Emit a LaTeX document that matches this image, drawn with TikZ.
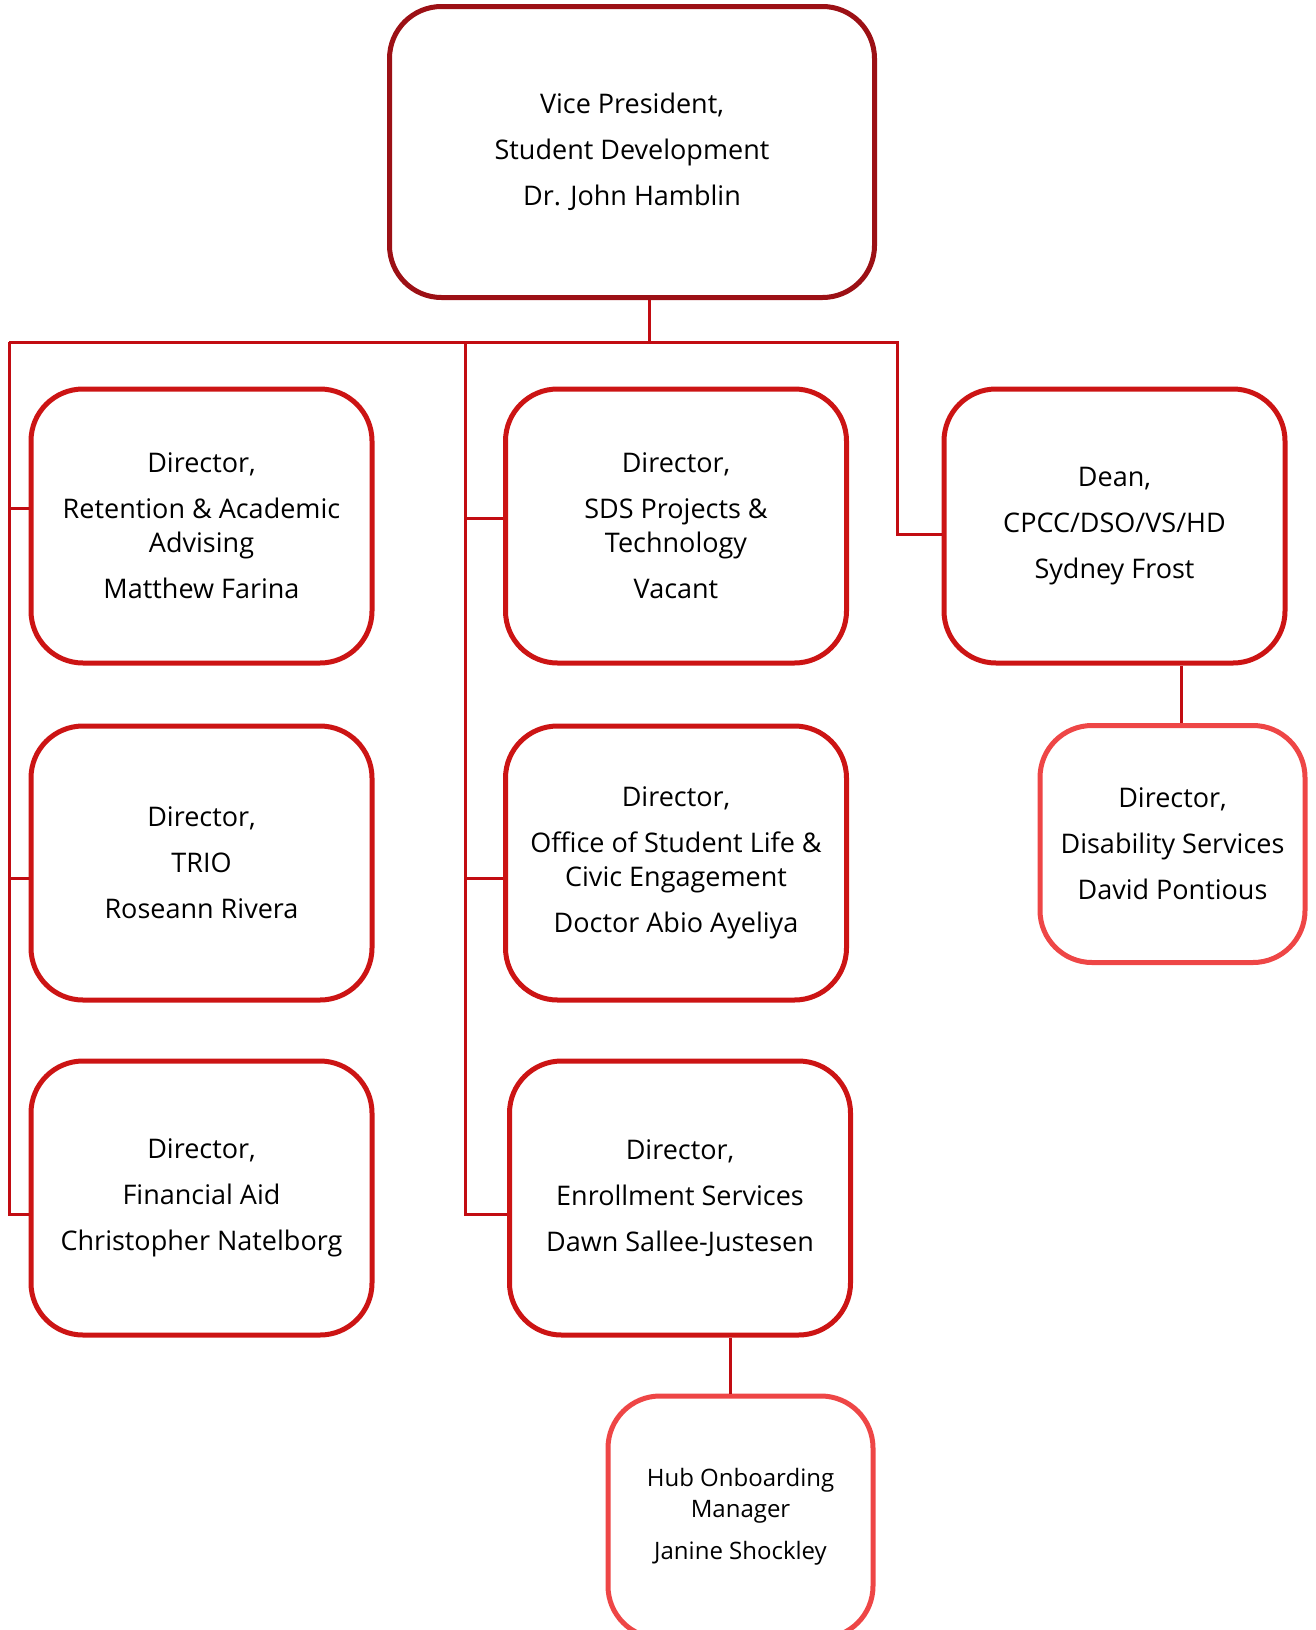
\documentclass[tikz,border=0pt]{standalone}
\usepackage{fontspec}
\setmainfont{Open Sans}
\usetikzlibrary{calc}
\definecolor{vpred}{HTML}{9C1015}
\definecolor{boxred}{HTML}{CC1414}
\definecolor{subred}{HTML}{EE4646}
\definecolor{linkred}{HTML}{C20C12}
\begin{document}
\begin{tikzpicture}[x=1pt,y=-1pt,
  box/.style={draw=boxred, line width=5pt, rounded corners=52pt, fill=white,
    align=center, inner sep=0pt, minimum width=341pt, minimum height=274pt,
    font=\fontsize{27}{34}\selectfont},
  vpbox/.style={box, draw=vpred, minimum width=485pt, minimum height=291pt},
  subbox/.style={box, draw=subred, minimum width=265pt, minimum height=237pt},
  conn/.style={draw=linkred, line width=3pt}]
\useasboundingbox (0,0) rectangle (1316,1630);

% top of the chart
\node[vpbox] (vp) at (632,152) {Vice President,\\[12pt] Student Development\\[12pt] Dr. John Hamblin};

% left column
\node[box] (ret) at (201.5,526) {Director,\\[12pt] Retention \& Academic\\Advising\\[12pt] Matthew Farina};
\node[box] (trio) at (201.5,863) {Director,\\[12pt] TRIO\\[12pt] Roseann Rivera};
\node[box] (fin) at (201.5,1198) {Director,\\[12pt] Financial Aid\\[12pt] Christopher Natelborg};

% middle column
\node[box] (sds) at (676,526) {Director,\\[12pt] SDS Projects \&\\Technology\\[12pt] Vacant};
\node[box] (osl) at (676,863) {Director,\\[12pt] Office of Student Life \&\\Civic Engagement\\[12pt] Doctor Abio Ayeliya};
\node[box] (enr) at (680,1198) {Director,\\[12pt] Enrollment Services\\[12pt] Dawn Sallee-Justesen};

% right column
\node[box] (dean) at (1114.5,526) {Dean,\\[12pt] CPCC/DSO/VS/HD\\[12pt] Sydney Frost};
\node[subbox] (dis) at (1172.5,844) {Director,\\[12pt] Disability Services\\[12pt] David Pontious};
\node[subbox, minimum height=242pt, font=\fontsize{24}{31}\selectfont] (hub) at (740.5,1517)
  {Hub Onboarding\\Manager\\[11pt] Janine Shockley};

% connector bus
\coordinate (bus) at (649,342);
\coordinate (lrail) at (9,342);
\coordinate (mrail) at (465,342);
\coordinate (rrail) at (897,342);
\coordinate (b1) at ($(ret.west)+(0,-18)$);
\coordinate (b2) at ($(trio.west)+(0,15)$);
\coordinate (b3) at ($(fin.west)+(0,16)$);
\coordinate (m1) at ($(sds.west)+(0,-8)$);
\coordinate (m2) at ($(osl.west)+(0,15)$);
\coordinate (m3) at ($(enr.west)+(0,16)$);
\coordinate (d1) at ($(dean.west)+(0,8)$);

\draw[conn] (bus |- vp.south) -- (bus);
\draw[conn] (lrail) -- (rrail) -- (rrail |- d1) -- (d1);
\draw[conn] (lrail) |- (b3);
\draw[conn] (lrail |- b1) -- (b1);
\draw[conn] (lrail |- b2) -- (b2);
\draw[conn] (mrail) |- (m3);
\draw[conn] (mrail |- m1) -- (m1);
\draw[conn] (mrail |- m2) -- (m2);
\draw[conn] (dis.north -| 1181,0) -- (1181,0 |- dean.south);
\draw[conn] (730,0 |- enr.south) -- (730,0 |- hub.north);
\end{tikzpicture}
\end{document}
